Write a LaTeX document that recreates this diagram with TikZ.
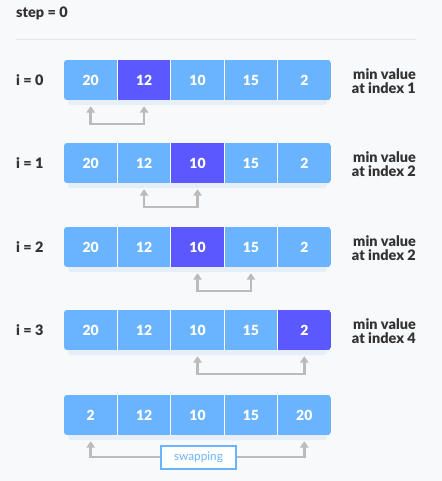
\documentclass[tikz,border=0pt]{standalone}
\usepackage{fontspec}
\setmainfont{Lato}[BoldFont={Lato Black}]
\usetikzlibrary{arrows.meta}
\definecolor{bgc}{HTML}{F8F9FB}
\definecolor{cellblue}{HTML}{6AB4FF}
\definecolor{cellhi}{HTML}{5B58FF}
\definecolor{txt}{HTML}{333333}
\definecolor{arrg}{HTML}{BBBBBB}
\definecolor{rulec}{HTML}{E3E5E8}
\definecolor{shadowc}{HTML}{E6EEF8}
\tikzset{
  lbl/.style={font=\fontsize{14.5}{14.5}\selectfont\bfseries, text=txt, inner sep=0pt},
  cellnum/.style={font=\fontsize{14}{14}\selectfont\bfseries, text=white, inner sep=0pt, minimum width=53.4bp, minimum height=40bp},
  arr/.style={draw=arrg, line width=2.5bp, {Triangle[width=8.5bp,length=6.5bp]}-{Triangle[width=8.5bp,length=6.5bp]}},
  arrone/.style={draw=arrg, line width=2.5bp, -{Triangle[width=8.5bp,length=6.5bp]}},
  swapbox/.style={draw=cellblue, line width=2bp, fill=white, text=cellblue, minimum width=75bp, minimum height=23bp, inner sep=0pt, font=\fontsize{11.8}{12}\selectfont},
}
\begin{document}
\begin{tikzpicture}[x=1bp,y=-1bp]
\fill[bgc] (0,0) rectangle (442,481);
\useasboundingbox (0,0) rectangle (442,481);
\node[lbl, anchor=west] (step) at (16,13) {step = 0};
\draw[rulec, line width=1bp] (16,40) -- (416,40);
% rows
\foreach \r/\yy/\hi/\vals in {0/60/1/{20,12,10,15,2}, 1/143/2/{20,12,10,15,2}, 2/227/2/{20,12,10,15,2}, 3/310/4/{20,12,10,15,2}, 4/395/9/{2,12,10,15,20}}{
  \fill[shadowc, rounded corners=3bp] (68,\yy+6) rectangle (327,\yy+45);
  \begin{scope}
    \clip[rounded corners=3bp] (64,\yy) rectangle (331,\yy+40);
    \fill[cellblue] (64,\yy) rectangle (331,\yy+40);
    \ifnum\hi<5
      \fill[cellhi] (64+\hi*53.4,\yy) rectangle (64+\hi*53.4+53.4,\yy+40);
    \fi
    \foreach \k in {1,2,3,4}{
      \draw[white, line width=1bp] (64+\k*53.4,\yy) -- (64+\k*53.4,\yy+40);
    }
  \end{scope}
  \foreach \v [count=\c from 0] in \vals {
    \node[cellnum] (c\r-\c) at (64+\c*53.4+26.7,\yy+20) {\v};
  }
}
\node[lbl, anchor=west] (i0) at (16,80.5) {i = 0};
\node[lbl, anchor=west] (i1) at (16,163.5) {i = 1};
\node[lbl, anchor=west] (i2) at (16,247.5) {i = 2};
\node[lbl, anchor=west] (i3) at (16,330.5) {i = 3};
\node[lbl, anchor=east, align=right] (m0) at (416,81) {min value\\at index 1};
\node[lbl, anchor=east, align=right] (m1) at (416,164) {min value\\at index 2};
\node[lbl, anchor=east, align=right] (m2) at (416,248) {min value\\at index 2};
\node[lbl, anchor=east, align=right] (m3) at (416,331) {min value\\at index 4};
% arrows
\draw[arr] ([yshift=-6bp]c0-0.south) -- ([yshift=-24bp]c0-0.south) -| ([yshift=-6bp]c0-1.south);
\draw[arr] ([yshift=-6bp]c1-1.south) -- ([yshift=-24bp]c1-1.south) -| ([yshift=-6bp]c1-2.south);
\draw[arr] ([yshift=-6bp]c2-2.south) -- ([yshift=-24bp]c2-2.south) -| ([yshift=-6bp]c2-3.south);
\draw[arr] ([yshift=-6bp]c3-2.south) -- ([yshift=-24bp]c3-2.south) -| ([yshift=-6bp]c3-4.south);
\node[swapbox] (swap) at (198.5,457) {swapping};
\draw[arrone] (swap.west) -| ([yshift=-6bp]c4-0.south);
\draw[arrone] (swap.east) -| ([yshift=-6bp]c4-4.south);
\end{tikzpicture}
\end{document}
